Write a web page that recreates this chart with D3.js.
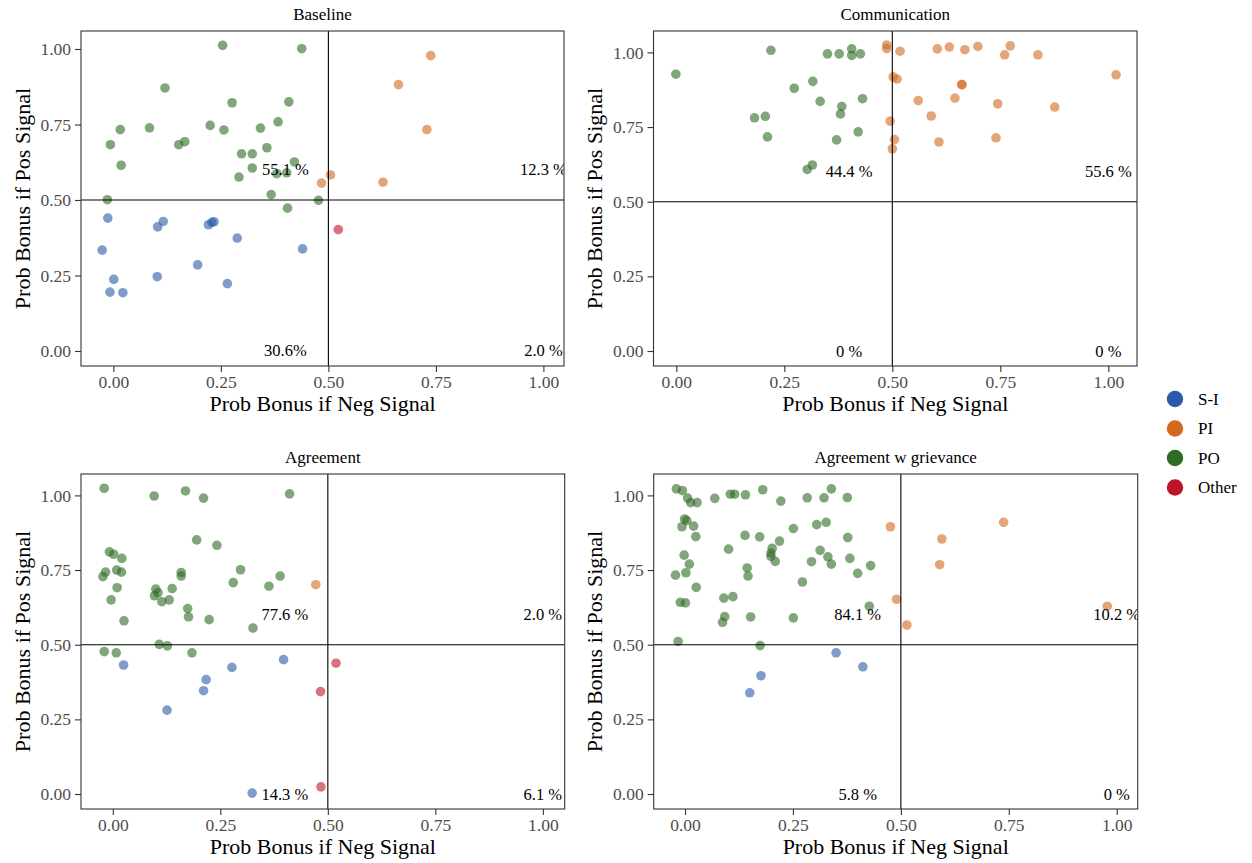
<!DOCTYPE html>
<html>
<head>
<meta charset="utf-8">
<script src="https://cdn.jsdelivr.net/npm/d3@7"></script>
<style>
  body { margin: 0; background: #fff; }
  text { font-family: "Liberation Serif", "Times New Roman", serif; }
</style>
</head>
<body>
<svg id="chart" width="1252" height="863"></svg>
<script>
// ---- groups ----
const groups = ["S-I", "PI", "PO", "Other"];
const groupColors = ["#2c5aa8", "#d2691e", "#2e6b23", "#c0142b"];

// ---- panel titles ----
const panelTitles = ["Baseline", "Communication", "Agreement", "Agreement w grievance"];

// ---- quadrant share labels: [top-left, top-right, bottom-left, bottom-right] ----
const baselineLabels = ["55.1 %", "12.3 %", "30.6%", "2.0 %"];
const communicationLabels = ["44.4 %", "55.6 %", "0 %", "0 %"];
const agreementLabels = ["77.6 %", "2.0 %", "14.3 %", "6.1 %"];
const grievanceLabels = ["84.1 %", "10.2 %", "5.8 %", "0 %"];
const labelX = [0.4, 1.0, 0.4, 1.0];
const labelY = [0.6, 0.6, 0.0, 0.0];

// ---- tick values ----
const tickValues = [0, 0.25, 0.5, 0.75, 1];

// ---- Baseline: [prob bonus if neg signal, prob bonus if pos signal] ----
const baselineSI = [[-0.013,0.440],[0.116,0.429],[0.103,0.411],[0.221,0.418],[0.229,0.426],[0.234,0.428],
  [0.288,0.374],[-0.026,0.334],[0.440,0.338],[0.196,0.285],[0.001,0.237],[0.102,0.246],[0.265,0.223],
  [-0.008,0.195],[0.022,0.193]];
const baselinePI = [[0.484,0.556],[0.505,0.583],[0.738,0.978],[0.663,0.882],[0.729,0.733],[0.627,0.559]];
const baselinePO = [[0.254,1.012],[0.438,1.001],[0.120,0.871],[0.276,0.822],[0.408,0.825],[0.016,0.733],
  [0.084,0.739],[0.225,0.747],[0.257,0.732],[0.342,0.738],[0.383,0.759],[-0.007,0.683],[0.152,0.683],
  [0.166,0.693],[0.018,0.615],[0.298,0.653],[0.323,0.653],[0.357,0.673],[0.323,0.606],[0.292,0.576],
  [0.380,0.587],[0.403,0.590],[0.421,0.626],[0.367,0.518],[-0.014,0.501],[0.477,0.499],[0.405,0.473]];
const baselineOther = [[0.523,0.402]];

// ---- Communication ----
const communicationSI = [];
const communicationPI = [[0.487,1.025],[0.487,1.013],[0.518,1.004],[0.502,0.918],[0.511,0.911],[0.495,0.770],
  [0.505,0.708],[0.500,0.677],[0.604,1.012],[0.632,1.018],[0.668,1.009],[0.698,1.020],[0.773,1.022],
  [0.760,0.992],[0.837,0.992],[1.018,0.925],[0.661,0.892],[0.661,0.892],[0.560,0.839],[0.645,0.847],
  [0.744,0.828],[0.876,0.817],[0.590,0.787],[0.608,0.700],[0.740,0.714]];
const communicationPO = [[0.219,1.007],[-0.001,0.927],[0.350,0.995],[0.377,0.995],[0.406,1.012],[0.406,0.990],
  [0.426,0.995],[0.316,0.903],[0.273,0.880],[0.333,0.836],[0.383,0.819],[0.380,0.794],[0.431,0.845],
  [0.181,0.781],[0.206,0.786],[0.211,0.717],[0.371,0.707],[0.421,0.734],[0.303,0.608],[0.315,0.623]];
const communicationOther = [];

// ---- Agreement ----
const agreementSI = [[0.025,0.432],[0.277,0.424],[0.397,0.450],[0.217,0.383],[0.211,0.346],[0.126,0.281],[0.324,0.003]];
const agreementPI = [[0.472,0.701]];
const agreementPO = [[-0.020,1.024],[0.096,0.998],[0.169,1.015],[0.211,0.991],[0.411,1.005],[0.195,0.851],
  [0.242,0.833],[-0.008,0.811],[0.002,0.803],[0.021,0.789],[-0.017,0.743],[-0.023,0.728],[0.009,0.750],
  [0.020,0.743],[0.159,0.742],[0.159,0.730],[0.297,0.751],[0.280,0.708],[0.389,0.730],[0.363,0.696],
  [0.010,0.691],[-0.004,0.650],[0.100,0.686],[0.105,0.674],[0.097,0.664],[0.114,0.644],[0.138,0.688],
  [0.131,0.650],[0.174,0.621],[0.176,0.593],[0.224,0.584],[0.026,0.580],[0.326,0.556],[0.108,0.501],
  [0.127,0.496],[-0.020,0.477],[0.008,0.473],[0.184,0.473]];
const agreementOther = [[0.519,0.438],[0.483,0.343],[0.484,0.024]];

// ---- Agreement w grievance ----
const grievanceSI = [[0.350,0.473],[0.412,0.426],[0.176,0.396],[0.150,0.339]];
const grievancePI = [[0.476,0.895],[0.490,0.652],[0.514,0.566],[0.738,0.910],[0.595,0.854],[0.590,0.768],[0.978,0.629]];
const grievancePO = [[-0.020,1.022],[-0.006,1.016],[0.006,0.991],[0.013,0.976],[0.028,0.976],[0.069,0.990],
  [0.105,1.004],[0.115,1.004],[0.140,1.002],[0.180,1.019],[0.222,0.981],[0.283,0.992],[0.322,0.992],
  [0.339,1.022],[0.376,0.993],[-0.001,0.921],[0.004,0.916],[-0.007,0.895],[0.020,0.897],[0.025,0.862],
  [0.305,0.902],[0.327,0.910],[0.251,0.889],[0.139,0.866],[0.173,0.861],[0.219,0.847],[0.377,0.859],
  [0.101,0.820],[0.202,0.823],[0.199,0.807],[0.199,0.796],[0.209,0.779],[0.313,0.816],[0.331,0.794],
  [0.339,0.770],[0.293,0.778],[0.382,0.789],[0.430,0.765],[0.400,0.739],[-0.002,0.800],[0.010,0.770],
  [0.002,0.741],[-0.022,0.733],[0.144,0.757],[0.146,0.730],[0.272,0.710],[0.026,0.692],[-0.011,0.642],
  [0.001,0.640],[0.090,0.656],[0.111,0.661],[0.427,0.629],[0.092,0.594],[0.087,0.575],[0.152,0.593],
  [0.251,0.590],[-0.016,0.511],[0.174,0.497]];
const grievanceOther = [];

// ---- layout of the four panels ----
const panels = [
  { title: panelTitles[0], series: [baselineSI, baselinePI, baselinePO, baselineOther], labels: baselineLabels,
    box: { x: 81, y: 31, w: 483, h: 335 }, xDomain: [-0.0753, 1.0479], yDomain: [-0.0497, 1.0596] },
  { title: panelTitles[1], series: [communicationSI, communicationPI, communicationPO, communicationOther], labels: communicationLabels,
    box: { x: 653.5, y: 31, w: 483.5, h: 335 }, xDomain: [-0.0528, 1.0664], yDomain: [-0.0502, 1.0717] },
  { title: panelTitles[2], series: [agreementSI, agreementPI, agreementPO, agreementOther], labels: agreementLabels,
    box: { x: 81, y: 474, w: 483.7, h: 335 }, xDomain: [-0.0740, 1.0508], yDomain: [-0.0502, 1.0717] },
  { title: panelTitles[3], series: [grievanceSI, grievancePI, grievancePO, grievanceOther], labels: grievanceLabels,
    box: { x: 653.7, y: 474, w: 484, h: 335 }, xDomain: [-0.0725, 1.0486], yDomain: [-0.0502, 1.0717] }
];

const svg = d3.select("#chart");
const fmt = d3.format(".2f");

panels.forEach((p, i) => {
  const { x: bx, y: by, w, h } = p.box;
  const xScale = d3.scaleLinear().domain(p.xDomain).range([bx, bx + w]);
  const yScale = d3.scaleLinear().domain(p.yDomain).range([by + h, by]);
  const g = svg.append("g");

  const clipId = "clip" + i;
  svg.append("clipPath").attr("id", clipId)
    .append("rect").attr("x", bx).attr("y", by).attr("width", w).attr("height", h);

  const plot = g.append("g").attr("clip-path", `url(#${clipId})`);

  // points
  p.series.forEach((pts, gi) => {
    plot.selectAll(null).data(pts).enter().append("circle")
      .attr("cx", d => xScale(d[0]))
      .attr("cy", d => yScale(d[1]))
      .attr("r", 4.8)
      .attr("fill", groupColors[gi])
      .attr("fill-opacity", 0.6);
  });

  // reference lines at 0.5
  plot.append("line")
    .attr("x1", xScale(0.5)).attr("x2", xScale(0.5))
    .attr("y1", by).attr("y2", by + h)
    .attr("stroke", "#000").attr("stroke-width", 1.1);
  plot.append("line")
    .attr("x1", bx).attr("x2", bx + w)
    .attr("y1", yScale(0.5)).attr("y2", yScale(0.5))
    .attr("stroke", "#000").attr("stroke-width", 1.1);

  // quadrant share labels
  plot.selectAll(null).data(p.labels).enter().append("text")
    .attr("x", (d, k) => xScale(labelX[k]))
    .attr("y", (d, k) => yScale(labelY[k]))
    .attr("text-anchor", "middle")
    .attr("dominant-baseline", "central")
    .attr("font-size", 16.5)
    .attr("fill", "#000")
    .text(d => d);

  // panel border
  g.append("rect")
    .attr("x", bx).attr("y", by).attr("width", w).attr("height", h)
    .attr("fill", "none").attr("stroke", "#333").attr("stroke-width", 1.1);

  // axes
  const xAxis = g.append("g").attr("transform", `translate(0,${by + h})`)
    .call(d3.axisBottom(xScale).tickValues(tickValues).tickFormat(fmt).tickSize(6).tickPadding(4));
  const yAxis = g.append("g").attr("transform", `translate(${bx},0)`)
    .call(d3.axisLeft(yScale).tickValues(tickValues).tickFormat(fmt).tickSize(6).tickPadding(4));
  [xAxis, yAxis].forEach(ax => {
    ax.select(".domain").remove();
    ax.selectAll(".tick line").attr("stroke", "#333").attr("stroke-width", 1.1);
    ax.selectAll(".tick text").attr("fill", "#4d4d4d").attr("font-size", 17.5)
      .style("font-family", '"Liberation Serif", "Times New Roman", serif');
  });

  // panel title
  g.append("text")
    .attr("x", bx + w / 2).attr("y", by - 17)
    .attr("text-anchor", "middle").attr("dominant-baseline", "central")
    .attr("font-size", 17).attr("fill", "#000")
    .text(p.title);

  // axis titles
  g.append("text")
    .attr("x", bx + w / 2).attr("y", by + h + 37)
    .attr("text-anchor", "middle").attr("dominant-baseline", "central")
    .attr("font-size", 22).attr("fill", "#000")
    .text("Prob Bonus if Neg Signal");
  g.append("text")
    .attr("transform", `translate(${bx - 59},${by + h / 2}) rotate(-90)`)
    .attr("text-anchor", "middle").attr("dominant-baseline", "central")
    .attr("font-size", 22).attr("fill", "#000")
    .text("Prob Bonus if Pos Signal");
});

// legend
const legend = svg.append("g");
const legendY = d3.scalePoint().domain(groups).range([399, 487.5]);
groups.forEach((gname, i) => {
  legend.append("circle")
    .attr("cx", 1175).attr("cy", legendY(gname)).attr("r", 8.2)
    .attr("fill", groupColors[i]);
  legend.append("text")
    .attr("x", 1198).attr("y", legendY(gname))
    .attr("dominant-baseline", "central")
    .attr("font-size", 17).attr("fill", "#000")
    .text(gname);
});
</script>
</body>
</html>
